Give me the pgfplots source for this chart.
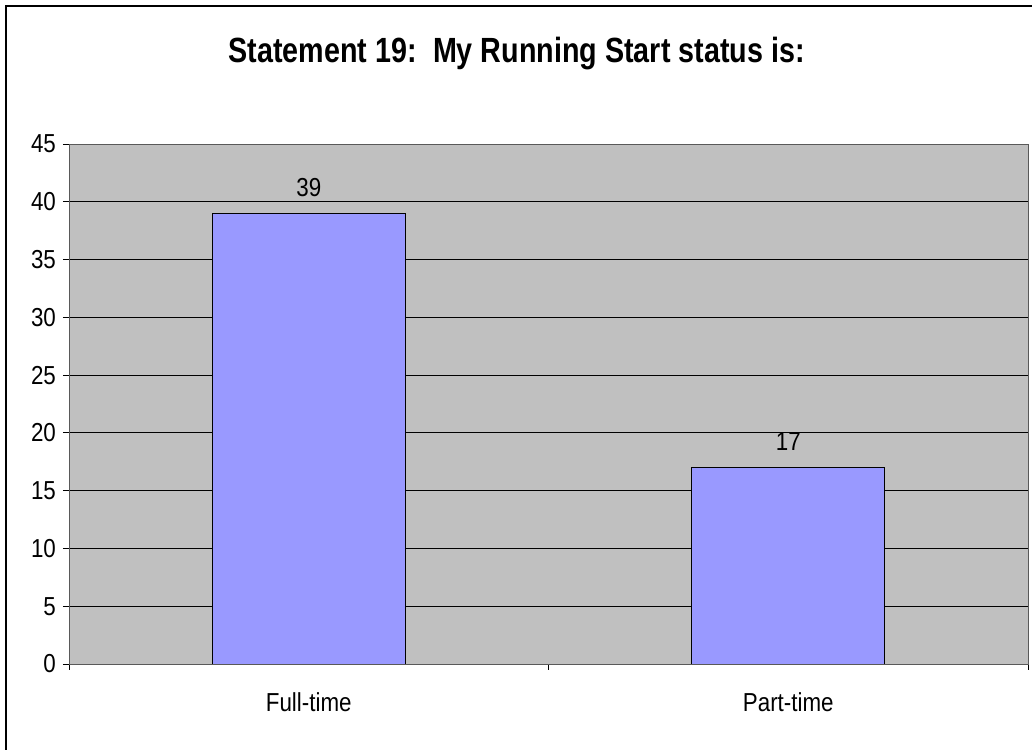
\documentclass[border=0pt]{standalone}
\usepackage{pgfplots}
\pgfplotsset{compat=1.18}
\usepackage{fontspec}
\setmainfont[FakeStretch=0.86]{Liberation Sans}
\newfontfamily\titlefont[FakeStretch=0.82]{Liberation Sans}
\definecolor{plotbg}{HTML}{C0C0C0}
\definecolor{barfill}{HTML}{9999FF}
\begin{document}
\begin{tikzpicture}[x=1pt,y=1pt]
\useasboundingbox (0,0) rectangle (516,374.5);
\draw[line width=1pt] (3,-10) rectangle (530,371.5);
\node[font=\titlefont\bfseries\fontsize{17.5}{20}\selectfont, inner sep=0pt, anchor=base] at (258.25,343) {Statement 19:\, My Running Start status is:};
\begin{axis}[
  at={(34.5pt,42.5pt)}, anchor=south west,
  scale only axis, width=479.5pt, height=260pt,
  xmin=-0.5, xmax=1.5, ymin=0, ymax=45,
  axis background/.style={fill=plotbg},
  axis line style={draw=gray!70!black},
  ybar, bar width=96.5pt,
  xtick={0,1}, xticklabels={Full-time,Part-time},
  major x tick style={draw=none},
  minor xtick={-0.5,0.5,1.5},
  ytick={0,5,...,45},
  tick pos=left, tick align=outside,
  major tick length=3pt, minor tick length=3pt,
  tick style={black, thin},
  ymajorgrids, grid style={black, thin},
  ticklabel style={font=\fontsize{13}{15}\selectfont},
  /pgf/number format/assume math mode=true,
  xticklabel style={yshift=-8pt},
  nodes near coords,
  nodes near coords style={font=\fontsize{13}{15}\selectfont, yshift=5pt},
]
\addplot[fill=barfill, draw=black, thin] coordinates {(0,39) (1,17)};
\end{axis}
\end{tikzpicture}
\end{document}
